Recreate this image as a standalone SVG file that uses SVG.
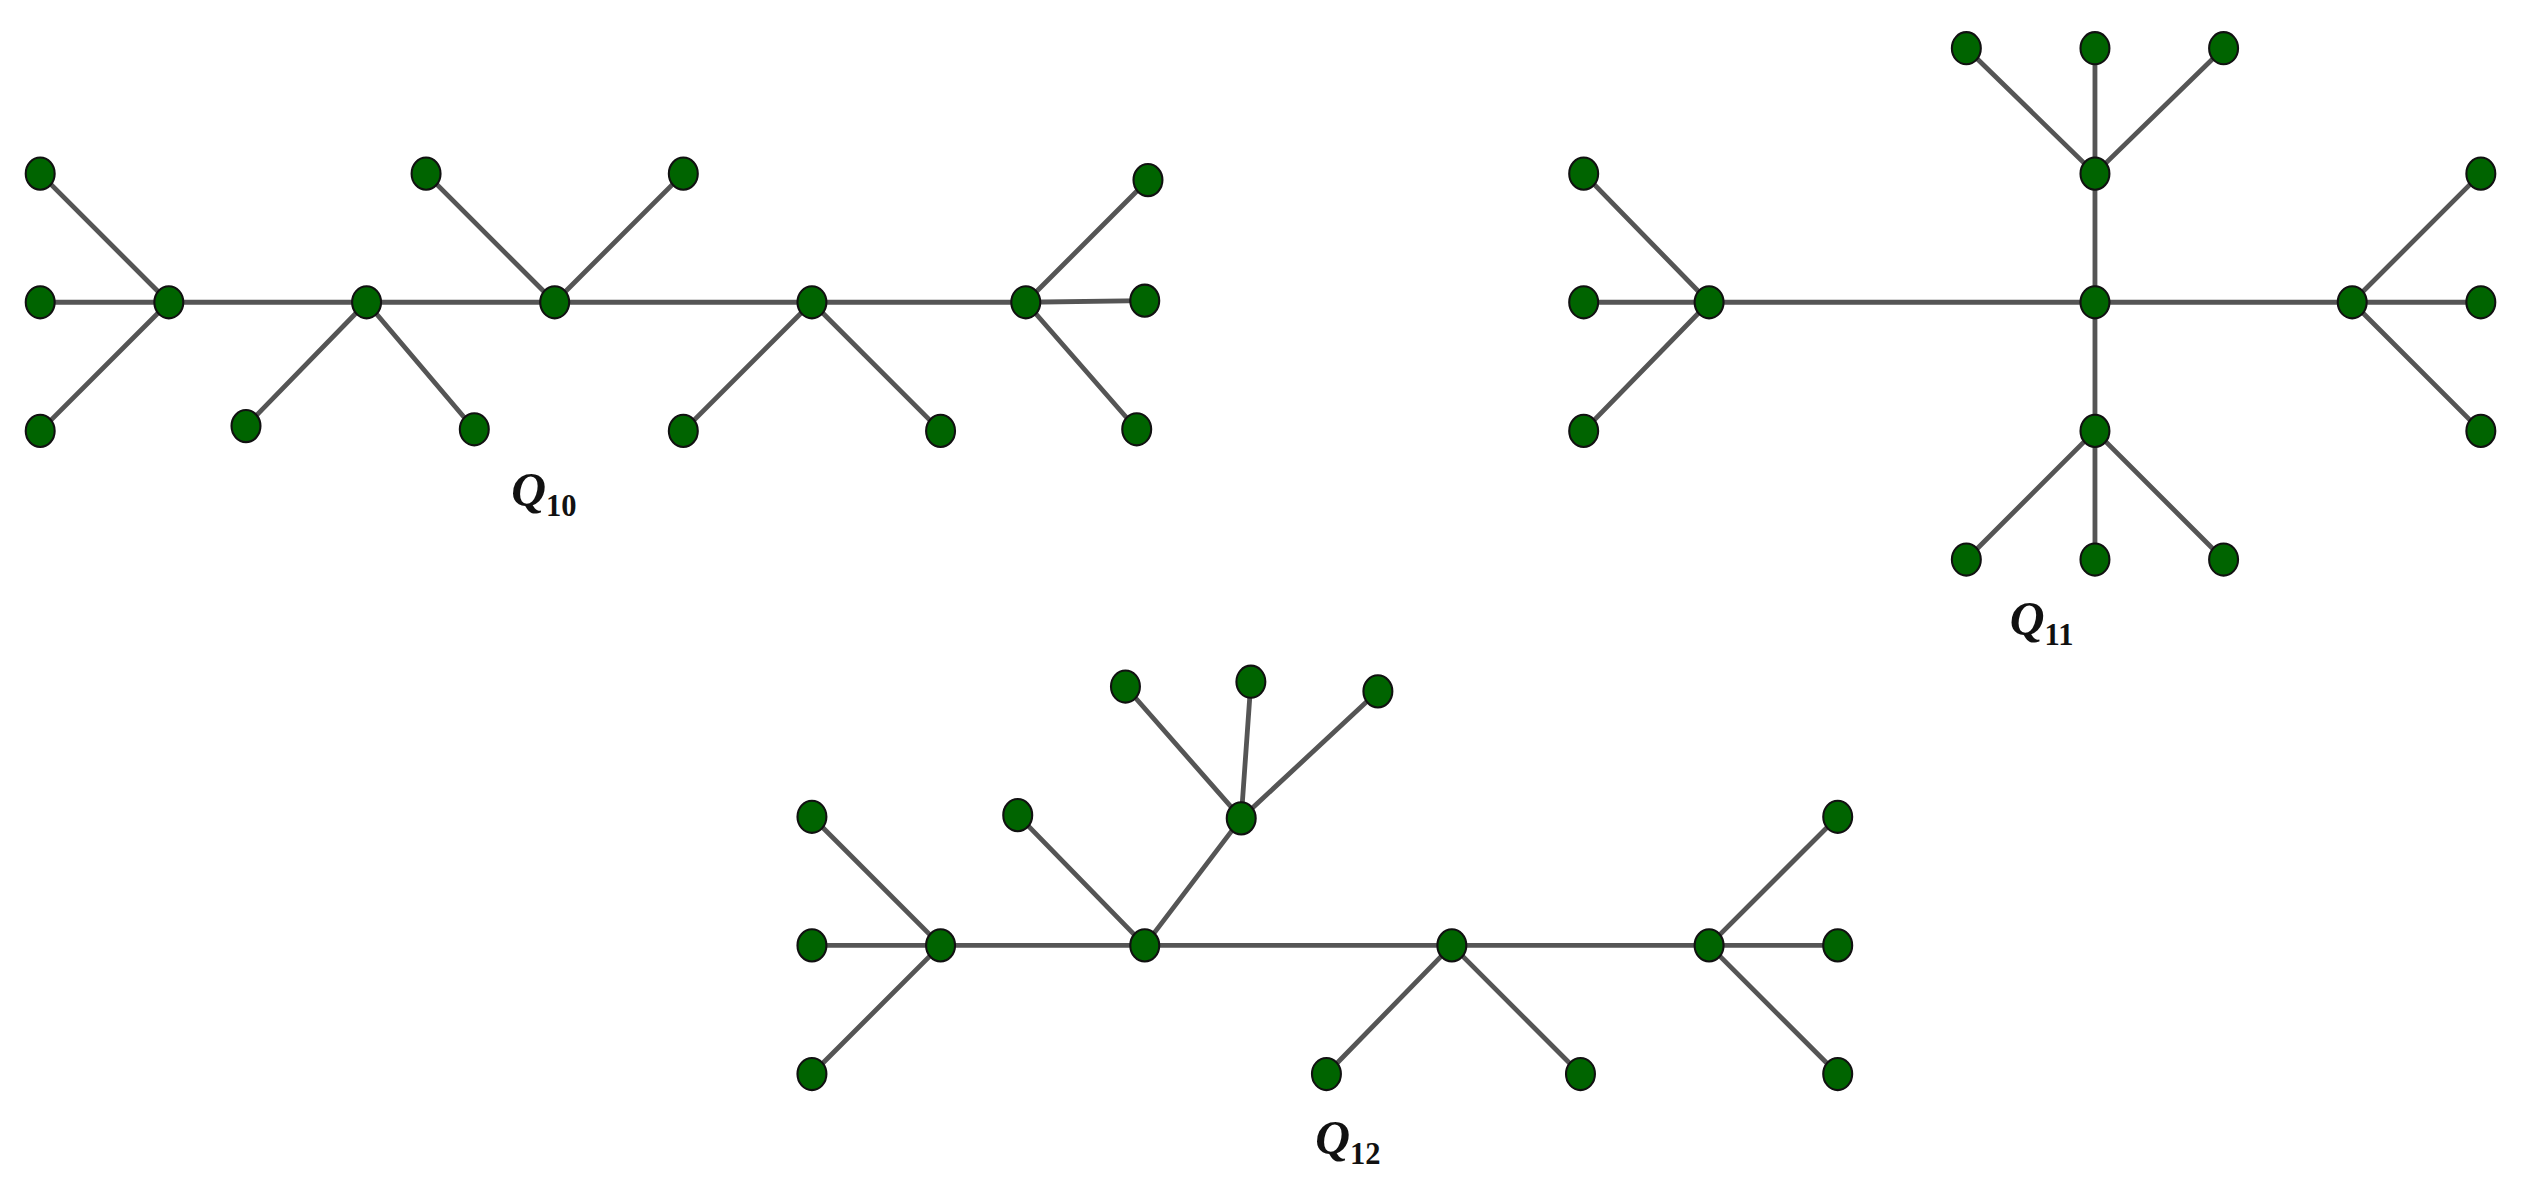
<svg xmlns="http://www.w3.org/2000/svg" width="2521" height="1190" viewBox="0 0 2521 1190">
<style>
.e{stroke:#555;stroke-width:3;fill:none}
.n{fill:#006400;stroke:#111;stroke-width:1.3}
.t{font-family:"Liberation Serif",serif;font-style:italic;font-weight:bold;font-size:30px;fill:#111}
.s{font-style:normal;font-size:19px}
</style>
<rect width="2521" height="1190" fill="#fff"/>
<g transform="scale(1.6078)">
<g id="connectors">
<path class="e" d="M105 188L25 108M105 188L25 188M105 188L25 268M105 188L638 188M228 188L153 265M228 188L295 267M345 188L265 108M345 188L425 108M505 188L425 268M505 188L585 268M638 188L714 112M638 188L712 187M638 188L707 267"/>
<path class="e" d="M1063 188L1463 188M1303 108L1303 268M1303 108L1223 30M1303 108L1303 30M1303 108L1383 30M1303 268L1223 348M1303 268L1303 348M1303 268L1383 348M1063 188L985 108M1063 188L985 188M1063 188L985 268M1463 188L1543 108M1463 188L1543 188M1463 188L1543 268"/>
<path class="e" d="M505 588L1143 588M585 588L505 508M585 588L505 668M712 588L633 507M712 588L772 509M772 509L700 427M772 509L778 424M772 509L857 430M903 588L825 668M903 588L983 668M1063 588L1143 508M1063 588L1143 668"/>
</g>
<g id="Q10">
<ellipse class="n" cx="105" cy="188" rx="9" ry="10"/><ellipse class="n" cx="25" cy="108" rx="9" ry="10"/><ellipse class="n" cx="25" cy="188" rx="9" ry="10"/><ellipse class="n" cx="25" cy="268" rx="9" ry="10"/>
<ellipse class="n" cx="228" cy="188" rx="9" ry="10"/><ellipse class="n" cx="153" cy="265" rx="9" ry="10"/><ellipse class="n" cx="295" cy="267" rx="9" ry="10"/>
<ellipse class="n" cx="345" cy="188" rx="9" ry="10"/><ellipse class="n" cx="265" cy="108" rx="9" ry="10"/><ellipse class="n" cx="425" cy="108" rx="9" ry="10"/>
<ellipse class="n" cx="505" cy="188" rx="9" ry="10"/><ellipse class="n" cx="425" cy="268" rx="9" ry="10"/><ellipse class="n" cx="585" cy="268" rx="9" ry="10"/>
<ellipse class="n" cx="638" cy="188" rx="9" ry="10"/><ellipse class="n" cx="714" cy="112" rx="9" ry="10"/><ellipse class="n" cx="712" cy="187" rx="9" ry="10"/><ellipse class="n" cx="707" cy="267" rx="9" ry="10"/>
<text class="t" x="318" y="315">Q<tspan class="s" dy="6">10</tspan></text>
</g>
<g id="Q11">
<ellipse class="n" cx="1303" cy="188" rx="9" ry="10"/><ellipse class="n" cx="1303" cy="108" rx="9" ry="10"/><ellipse class="n" cx="1223" cy="30" rx="9" ry="10"/><ellipse class="n" cx="1303" cy="30" rx="9" ry="10"/><ellipse class="n" cx="1383" cy="30" rx="9" ry="10"/>
<ellipse class="n" cx="1303" cy="268" rx="9" ry="10"/><ellipse class="n" cx="1223" cy="348" rx="9" ry="10"/><ellipse class="n" cx="1303" cy="348" rx="9" ry="10"/><ellipse class="n" cx="1383" cy="348" rx="9" ry="10"/>
<ellipse class="n" cx="1063" cy="188" rx="9" ry="10"/><ellipse class="n" cx="985" cy="108" rx="9" ry="10"/><ellipse class="n" cx="985" cy="188" rx="9" ry="10"/><ellipse class="n" cx="985" cy="268" rx="9" ry="10"/>
<ellipse class="n" cx="1463" cy="188" rx="9" ry="10"/><ellipse class="n" cx="1543" cy="108" rx="9" ry="10"/><ellipse class="n" cx="1543" cy="188" rx="9" ry="10"/><ellipse class="n" cx="1543" cy="268" rx="9" ry="10"/>
<text class="t" x="1250" y="395">Q<tspan class="s" dy="6">11</tspan></text>
</g>
<g id="Q12">
<ellipse class="n" cx="585" cy="588" rx="9" ry="10"/><ellipse class="n" cx="505" cy="508" rx="9" ry="10"/><ellipse class="n" cx="505" cy="588" rx="9" ry="10"/><ellipse class="n" cx="505" cy="668" rx="9" ry="10"/>
<ellipse class="n" cx="712" cy="588" rx="9" ry="10"/><ellipse class="n" cx="633" cy="507" rx="9" ry="10"/><ellipse class="n" cx="772" cy="509" rx="9" ry="10"/><ellipse class="n" cx="700" cy="427" rx="9" ry="10"/><ellipse class="n" cx="778" cy="424" rx="9" ry="10"/><ellipse class="n" cx="857" cy="430" rx="9" ry="10"/>
<ellipse class="n" cx="903" cy="588" rx="9" ry="10"/><ellipse class="n" cx="825" cy="668" rx="9" ry="10"/><ellipse class="n" cx="983" cy="668" rx="9" ry="10"/>
<ellipse class="n" cx="1063" cy="588" rx="9" ry="10"/><ellipse class="n" cx="1143" cy="508" rx="9" ry="10"/><ellipse class="n" cx="1143" cy="588" rx="9" ry="10"/><ellipse class="n" cx="1143" cy="668" rx="9" ry="10"/>
<text class="t" x="818" y="718">Q<tspan class="s" dy="6">12</tspan></text>
</g>
</g>
</svg>
